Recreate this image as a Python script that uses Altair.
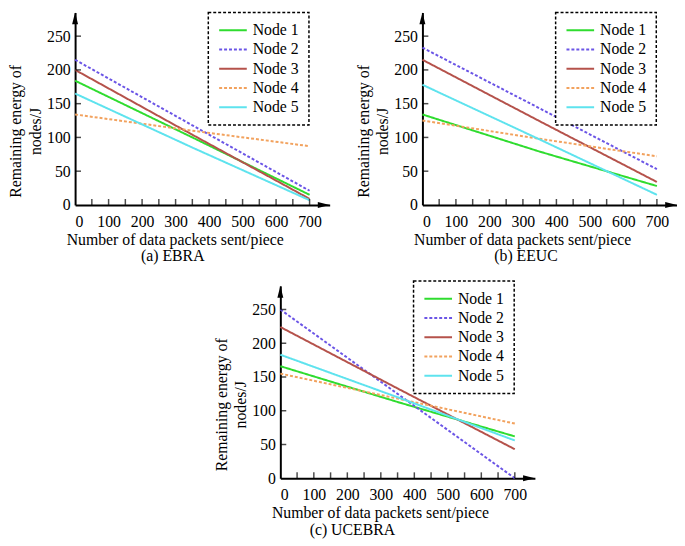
import altair as alt
import pandas as pd

# Node legend entries and their styles
node_names = ["Node 1", "Node 2", "Node 3", "Node 4", "Node 5"]
node_colors = ["#2fdc2f", "#6b55e6", "#b5524b", "#f2a25e", "#5ee3ee"]
node_dashes = [[1, 0], [3, 2], [1, 0], [3, 2], [1, 0]]

# x positions (packets sent)
packets_sent = [0, 350, 700]

# remaining energy (J) for Node 1..5, read at 0 / 350 / 700 packets
ebra_energy = [[184, 100, 15], [215, 118, 21], [200, 104, 9], [134, 110, 87], [165, 85, 7]]
eeuc_energy = [[134, 79, 28], [233, 143, 53], [215, 124, 34], [125, 98, 72], [178, 97, 15]]
ucebra_energy = [[166, 113, 62], [250, 125, 0], [224, 133, 43], [155, 118, 81], [183, 120, 56]]

x_labels = [0, 100, 200, 300, 400, 500, 600, 700]
x_minor = [50, 100, 150, 200, 250, 300, 350, 400, 450, 500, 550, 600, 650, 700]
y_labels = [0, 50, 100, 150, 200, 250]
y_minor = [50, 100, 150, 200, 250]

FONT = "Liberation Serif, Times New Roman, serif"
FS = 16
W, H = 258, 195
X_MAX, Y_MAX = 760, 285


def to_frame(energy):
    rows = []
    for name, values in zip(node_names, energy):
        for p, e in zip(packets_sent, values):
            rows.append({"node": name, "packets": p, "energy": e})
    return pd.DataFrame(rows)


xscale = alt.Scale(domain=[0, X_MAX], nice=False, zero=False)
yscale = alt.Scale(domain=[0, Y_MAX], nice=False, zero=False)
xaxis = alt.Axis(values=x_labels, ticks=False, grid=False,
                 labelFont=FONT, labelFontSize=FS, labelColor="black",
                 labelPadding=9, domainColor="black", domainWidth=2,
                 title="Number of data packets sent/piece",
                 titleFont=FONT, titleFontSize=FS, titleFontWeight="normal",
                 titleColor="black",
                 titleX=101, titleY=35, titleAlign="center",
                 titleBaseline="middle")
yaxis = alt.Axis(values=y_labels, ticks=False, grid=False,
                 labelFont=FONT, labelFontSize=FS, labelColor="black",
                 labelPadding=5, domainColor="black", domainWidth=2,
                 title=["Remaining energy of", "nodes/J"],
                 titleFont=FONT, titleFontSize=FS, titleFontWeight="normal",
                 titleColor="black",
                 titleLineHeight=20, titleX=-60, titleY=120,
                 titleAngle=270, titleAlign="center",
                 titleBaseline="middle")


def panel(energy, caption, caption_dx, legend_y=0):
    df = to_frame(energy)
    legend = alt.Legend(title=None, orient="none", legendX=135, legendY=legend_y,
                        labelFont=FONT, labelFontSize=FS, labelColor="black",
                        labelOffset=19, symbolType="M-1,0H3", symbolSize=196,
                        symbolStrokeWidth=2, strokeColor="black", padding=10,
                        rowPadding=3.5, fillColor="white")

    lines = alt.Chart(df).mark_line(strokeWidth=2).encode(
        x=alt.X("packets:Q", scale=xscale, axis=xaxis),
        y=alt.Y("energy:Q", scale=yscale, axis=yaxis),
        color=alt.Color("node:N", scale=alt.Scale(domain=node_names, range=node_colors),
                        legend=legend),
        strokeDash=alt.StrokeDash("node:N",
                                  scale=alt.Scale(domain=node_names, range=node_dashes),
                                  legend=legend),
    )

    xticks = alt.Chart(pd.DataFrame({"t": x_minor})).mark_tick(
        orient="vertical", size=6, thickness=1.5, yOffset=-3, color="black"
    ).encode(
        x=alt.X("t:Q", scale=xscale, axis=xaxis),
        y=alt.YDatum(0, scale=yscale, axis=yaxis),
    )
    yticks = alt.Chart(pd.DataFrame({"t": y_minor})).mark_tick(
        orient="horizontal", size=6, thickness=1.5, xOffset=3, color="black"
    ).encode(
        y=alt.Y("t:Q", scale=yscale, axis=yaxis),
        x=alt.XDatum(0, scale=xscale, axis=xaxis),
    )
    arrow_x = alt.Chart(pd.DataFrame({"v": [0]})).mark_point(
        shape="M0,0L-2.4,-0.6L-2.4,0.6Z", filled=True, size=100, color="black", opacity=1
    ).encode(
        x=alt.XDatum(X_MAX, scale=xscale, axis=xaxis),
        y=alt.YDatum(0, scale=yscale, axis=yaxis),
    )
    arrow_y = alt.Chart(pd.DataFrame({"v": [0]})).mark_point(
        shape="M0,0L-0.6,2.4L0.6,2.4Z", filled=True, size=100, color="black", opacity=1
    ).encode(
        x=alt.XDatum(0, scale=xscale, axis=xaxis),
        y=alt.YDatum(Y_MAX, scale=yscale, axis=yaxis),
    )

    return alt.layer(lines, xticks, yticks, arrow_x, arrow_y).properties(
        width=W, height=H,
        title=alt.TitleParams(caption, orient="bottom", anchor="middle", frame="group",
                              dx=caption_dx, offset=1, font=FONT, fontSize=FS,
                              fontWeight="normal", color="black"),
    )


panel_a = panel(ebra_energy, "(a) EBRA", -30)
panel_b = panel(eeuc_energy, "(b) EEUC", -24)
panel_c = panel(ucebra_energy, "(c) UCEBRA", -56, legend_y=-5)

spacer = alt.Chart(pd.DataFrame({"v": [0]})).mark_point(opacity=0).properties(
    width=140, height=10
)

top_row = alt.hconcat(panel_a, panel_b, spacing=26).resolve_scale(
    color="independent", strokeDash="independent"
).resolve_legend(color="independent", strokeDash="independent")
bottom_row = alt.hconcat(spacer, panel_c, spacing=0).resolve_scale(
    color="independent", strokeDash="independent"
).resolve_legend(color="independent", strokeDash="independent")

chart = alt.vconcat(top_row, bottom_row, spacing=16).resolve_scale(
    color="independent", strokeDash="independent"
).resolve_legend(
    color="independent", strokeDash="independent"
).properties(
    padding={"left": 0, "top": 0, "right": 0, "bottom": 0}
).configure(
    font=FONT
).configure_view(
    strokeWidth=0
).configure_legend(
    strokeDash=[3, 2], strokeWidth=1.5
)

chart.save("out.html", embed_options={"renderer": "svg", "actions": False})
